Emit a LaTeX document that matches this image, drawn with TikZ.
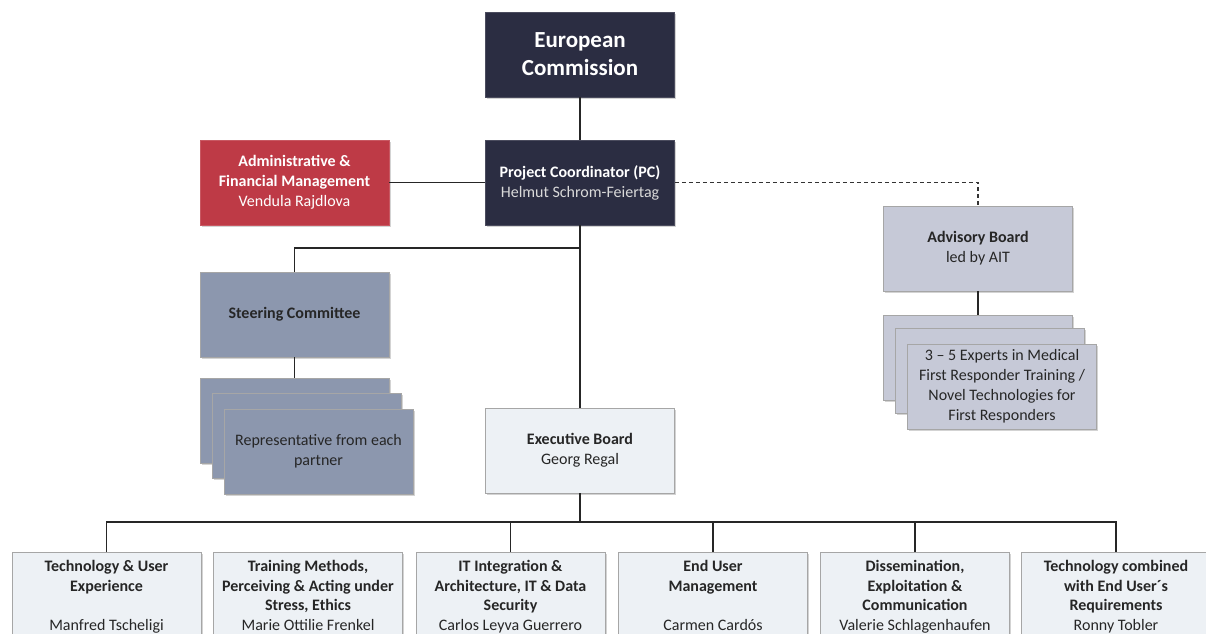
\documentclass[tikz,border=0pt]{standalone}
\usepackage{fontspec}
\setmainfont{Carlito}
\usetikzlibrary{shadows}
\definecolor{ecnavy}{HTML}{2B2D42}
\definecolor{adminred}{HTML}{BE3A46}
\definecolor{steerblue}{HTML}{8C97AE}
\definecolor{advgrey}{HTML}{C6C9D7}
\definecolor{wpgrey}{HTML}{EDF1F5}
\definecolor{namegrey}{HTML}{D9D9D9}
\begin{document}
\begin{tikzpicture}[x=1pt,y=-1pt,
    box/.style={minimum width=189pt,minimum height=85pt,inner sep=0pt,align=center,
      font=\fontsize{16}{20}\selectfont,draw=gray!70,line width=0.8pt,
      drop shadow={shadow xshift=1.5pt,shadow yshift=-1.5pt,opacity=0.35}},
    darkbox/.style={box,fill=ecnavy,draw=ecnavy!85,text=white},
    redbox/.style={box,fill=adminred,draw=adminred!85,text=white},
    steerbox/.style={box,fill=steerblue,text=black!85},
    advbox/.style={box,fill=advgrey,text=black!85},
    wpbox/.style={box,fill=wpgrey,minimum height=0pt,anchor=north,inner ysep=8pt,
      font=\fontsize{16}{19.5}\selectfont,text=black!85},
    conn/.style={line width=1.4pt,black!85}]
    \useasboundingbox (0,0) rectangle (1206,633);
    \clip (0,0) rectangle (1206,633);
    % top of the tree
    \node[darkbox,font=\fontsize{23}{28}\selectfont\bfseries] (ec) at (580,54.5) {European\\Commission};
    \node[darkbox] (pc) at (580,182.5) {\textbf{Project Coordinator (PC)}\\\textcolor{namegrey}{Helmut Schrom-Feiertag}};
    \node[redbox] (admin) at (294.5,182.5) {\textbf{Administrative \&}\\\textbf{Financial Management}\\Vendula Rajdlova};
    % steering committee and its stack
    \node[steerbox] (steer) at (294.5,314.5) {\textbf{Steering Committee}};
    \foreach \i/\x/\y in {1/294.5/420.5,2/307/435.5}
      \node[steerbox] (rep\i) at (\x,\y) {};
    \node[steerbox] (rep3) at (318.5,451.5) {Representative from each\\partner};
    % advisory board and experts
    \node[advbox] (adv) at (978,248.5) {\textbf{Advisory Board}\\led by AIT};
    \foreach \i/\x/\y in {1/978/357.5,2/990/371}
      \node[advbox] (exp\i) at (\x,\y) {};
    \node[advbox] (exp3) at (1002,386.5) {3 -- 5 Experts in Medical\\First Responder Training /\\Novel Technologies for\\First Responders};
    \node[box,fill=wpgrey,text=black!85] (exec) at (580,450.5) {\textbf{Executive Board}\\Georg Regal};
    % work packages
    \node[wpbox] (wp1) at (106.5,552) {\textbf{Technology \& User}\\\textbf{Experience}\\\mbox{}\\Manfred Tscheligi\\\mbox{}};
    \node[wpbox] (wp2) at (308,552) {\textbf{Training Methods,}\\\textbf{Perceiving \& Acting under}\\\textbf{Stress, Ethics}\\Marie Ottilie Frenkel\\\mbox{}};
    \node[wpbox] (wp3) at (510.5,552) {\textbf{IT Integration \&}\\\textbf{Architecture, IT \& Data}\\\textbf{Security}\\Carlos Leyva Guerrero\\\mbox{}};
    \node[wpbox] (wp4) at (713,552) {\textbf{End User}\\\textbf{Management}\\\mbox{}\\Carmen Cardós\\\mbox{}};
    \node[wpbox] (wp5) at (915,552) {\textbf{Dissemination,}\\\textbf{Exploitation \&}\\\textbf{Communication}\\Valerie Schlagenhaufen\\\mbox{}};
    \node[wpbox] (wp6) at (1116,552) {\textbf{Technology combined}\\\textbf{with End User´s}\\\textbf{Requirements}\\Ronny Tobler\\\mbox{}};
    % connectors
    \draw[conn] (ec) -- (pc);
    \draw[conn] (admin) -- (pc);
    \draw[line width=1.2pt,black!80,dash pattern=on 4pt off 3pt] (pc.east) -| (adv.north);
    \draw[conn] (pc) -- (exec);
    \coordinate (sbranch) at (580,248);
    \draw[conn] (sbranch) -| (steer.north);
    \draw[conn] (steer) -- (rep1);
    \draw[conn] (adv) -- (exp1);
    \coordinate (bus) at (580,522);
    \draw[conn] (exec) -- (bus);
    \foreach \w in {1,3,4,5,6}
      \draw[conn] (bus) -| (wp\w.north);
  \end{tikzpicture}
\end{document}
